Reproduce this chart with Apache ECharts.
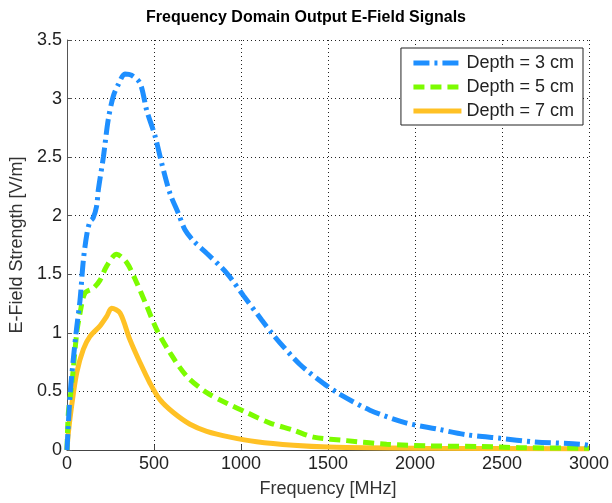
<!DOCTYPE html>
<html><head><meta charset="utf-8">
<script src="https://cdn.jsdelivr.net/npm/echarts@6/dist/echarts.min.js"></script>
<style>html,body{margin:0;padding:0;background:#fff}#c{width:612px;height:503px}</style>
</head><body><div id="c"></div>
<script>
const seriesNames = ['Depth = 3 cm', 'Depth = 5 cm', 'Depth = 7 cm'];
const freq3 = [0,17,36,56,75,94,115,132,150,170,180,209,237,266,295,333,370,420,458,506,544,592,640,678,730,803,918,1013,1119,1176,1224,1339,1473,1569,1741,1952,2125,2297,2489,2680,2948,3000];
const val3  = [0,0.46,0.77,1.05,1.28,1.62,1.85,1.95,1.98,2.08,2.22,2.5,2.82,3.02,3.12,3.21,3.2,3.13,2.9,2.68,2.45,2.19,2.02,1.88,1.78,1.68,1.51,1.32,1.11,1.0,0.915,0.73,0.57,0.475,0.34,0.23,0.18,0.13,0.10,0.07,0.05,0.04];
const freq5 = [0,8,27,56,75,103,151,190,228,285,343,400,458,515,592,688,803,918,1033,1167,1301,1416,1607,1837,2086,2374,2600,3000];
const val5  = [0,0.32,0.55,1.0,1.17,1.34,1.38,1.45,1.57,1.67,1.6,1.43,1.23,1.03,0.83,0.63,0.49,0.40,0.32,0.23,0.17,0.11,0.08,0.05,0.035,0.03,0.02,0.015];
const freq7 = [0,8,27,56,94,132,190,228,257,305,362,420,477,534,611,707,803,937,1090,1301,1500,2000,3000];
const val7  = [0,0.15,0.38,0.66,0.86,0.97,1.06,1.14,1.21,1.17,0.94,0.745,0.57,0.43,0.32,0.22,0.16,0.11,0.07,0.04,0.025,0.015,0.01];
const xTicks = [0,500,1000,1500,2000,2500,3000];
const yTicks = [0,0.5,1,1.5,2,2.5,3,3.5];

const pairs = (xs, ys) => xs.map((x, i) => [x, ys[i]]);
const font = 'Liberation Sans, Arial, sans-serif';
const chart = echarts.init(document.getElementById('c'), null, {renderer: 'canvas'});
chart.setOption({
  animation: false,
  backgroundColor: '#fff',
  title: {text: 'Frequency Domain Output E-Field Signals', left: 'center', top: 5,
    textStyle: {fontFamily: font, fontSize: 16, fontWeight: 'bold', color: '#000'}},
  grid: {left: 67, right: 23, top: 40, bottom: 52},
  legend: {
    orient: 'vertical', right: 29, top: 48, itemWidth: 48, itemHeight: 12, itemGap: 6,
    backgroundColor: '#fff', borderColor: '#222', borderWidth: 1, borderRadius: 0,
    padding: [6, 9, 5, 10],
    itemStyle: {opacity: 0, borderWidth: 0},
    lineStyle: {width: 5},
    textStyle: {fontFamily: font, fontSize: 18, color: '#222'},
    data: seriesNames
  },
  xAxis: {
    type: 'value', min: 0, max: 3000, interval: 500,
    name: 'Frequency [MHz]', nameLocation: 'middle', nameGap: 30,
    nameTextStyle: {fontFamily: font, fontSize: 18, color: '#333'},
    axisLine: {onZero: false, lineStyle: {color: '#444', width: 1}},
    axisTick: {inside: true, length: 5, lineStyle: {color: '#444'}},
    axisLabel: {fontFamily: font, fontSize: 18, color: '#222', margin: 5,
      formatter: v => xTicks.includes(v) ? String(v) : ''},
    splitLine: {show: true, lineStyle: {type: [1, 3], color: '#222', width: 1}}
  },
  yAxis: {
    type: 'value', min: 0, max: 3.5, interval: 0.5,
    name: 'E-Field Strength [V/m]', nameLocation: 'middle', nameGap: 40, nameRotate: 90,
    nameTextStyle: {fontFamily: font, fontSize: 18, color: '#333'},
    axisLine: {show: true, lineStyle: {color: '#555', width: 1}},
    axisTick: {show: true, inside: true, length: 5, lineStyle: {color: '#555'}},
    axisLabel: {fontFamily: font, fontSize: 18, color: '#222', margin: 5,
      formatter: v => yTicks.includes(v) ? String(v) : ''},
    splitLine: {show: true, lineStyle: {type: [1, 3], color: '#222', width: 1}}
  },
  series: [
    {name: seriesNames[0], type: 'line', data: pairs(freq3, val3), smooth: 0.3, symbol: 'none',
     lineStyle: {color: '#1e8fff', width: 5, type: [16, 5, 3, 5]}, itemStyle: {color: '#1e8fff'}, z: 3},
    {name: seriesNames[1], type: 'line', data: pairs(freq5, val5), smooth: 0.3, symbol: 'none',
     lineStyle: {color: '#7cfc00', width: 5, type: [11, 6]}, itemStyle: {color: '#7cfc00'}, z: 2},
    {name: seriesNames[2], type: 'line', data: pairs(freq7, val7), smooth: 0.3, symbol: 'none',
     lineStyle: {color: '#ffc125', width: 5, type: 'solid'}, itemStyle: {color: '#ffc125'}, z: 1}
  ]
});
</script></body></html>
